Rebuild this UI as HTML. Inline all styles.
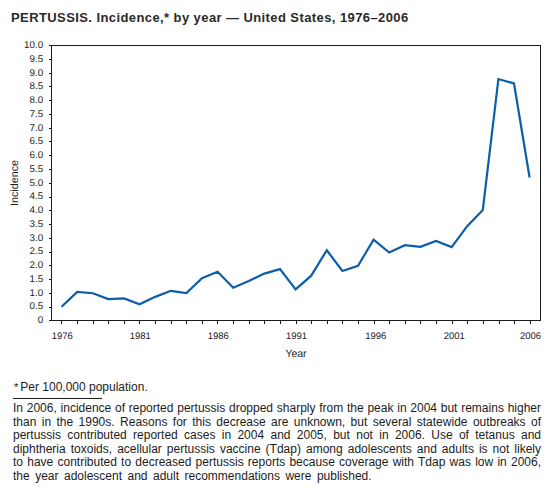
<!DOCTYPE html>
<html><head><meta charset="utf-8"><style>
html,body{margin:0;padding:0;background:#fff;}
body{width:550px;height:492px;position:relative;overflow:hidden;font-family:"Liberation Sans",sans-serif;color:#1c1c1c;}
.title{position:absolute;left:11px;top:10px;font-weight:bold;font-size:13px;letter-spacing:0.41px;white-space:nowrap;color:#2a2a2a;}
svg{position:absolute;left:0;top:0;}
.fn{position:absolute;left:14px;top:380.2px;font-size:12px;line-height:14px;white-space:nowrap;}
.rule{position:absolute;left:13px;top:398px;width:89px;height:1px;background:#1c1c1c;}
.body{position:absolute;left:13px;top:402px;width:528px;font-size:12px;line-height:13.6px;}
.body div{text-align:justify;text-align-last:justify;white-space:nowrap;}
.body div.last{text-align-last:left;word-spacing:2.15px;}
</style></head><body>
<div class="title">PERTUSSIS. Incidence,* by year — United States, 1976–2006</div>
<svg width="550" height="492" viewBox="0 0 550 492">
<g font-family="Liberation Sans, sans-serif" font-size="9.5" fill="#1c1c1c" text-rendering="geometricPrecision">
<text font-size="9.8" x="43.2" y="48.00" text-anchor="end">10.0</text><text font-size="9.8" x="43.2" y="61.75" text-anchor="end">9.5</text><text font-size="9.8" x="43.2" y="75.50" text-anchor="end">9.0</text><text font-size="9.8" x="43.2" y="89.25" text-anchor="end">8.5</text><text font-size="9.8" x="43.2" y="103.00" text-anchor="end">8.0</text><text font-size="9.8" x="43.2" y="116.75" text-anchor="end">7.5</text><text font-size="9.8" x="43.2" y="130.50" text-anchor="end">7.0</text><text font-size="9.8" x="43.2" y="144.25" text-anchor="end">6.5</text><text font-size="9.8" x="43.2" y="158.00" text-anchor="end">6.0</text><text font-size="9.8" x="43.2" y="171.75" text-anchor="end">5.5</text><text font-size="9.8" x="43.2" y="185.50" text-anchor="end">5.0</text><text font-size="9.8" x="43.2" y="199.25" text-anchor="end">4.5</text><text font-size="9.8" x="43.2" y="213.00" text-anchor="end">4.0</text><text font-size="9.8" x="43.2" y="226.75" text-anchor="end">3.5</text><text font-size="9.8" x="43.2" y="240.50" text-anchor="end">3.0</text><text font-size="9.8" x="43.2" y="254.25" text-anchor="end">2.5</text><text font-size="9.8" x="43.2" y="268.00" text-anchor="end">2.0</text><text font-size="9.8" x="43.2" y="281.75" text-anchor="end">1.5</text><text font-size="9.8" x="43.2" y="295.50" text-anchor="end">1.0</text><text font-size="9.8" x="43.2" y="309.25" text-anchor="end">0.5</text><text font-size="9.8" x="43.2" y="323.00" text-anchor="end">0</text>
<text x="62.30" y="339.2" text-anchor="middle">1976</text><text x="140.32" y="339.2" text-anchor="middle">1981</text><text x="218.33" y="339.2" text-anchor="middle">1986</text><text x="296.50" y="339.2" text-anchor="middle">1991</text><text x="375.72" y="339.2" text-anchor="middle">1996</text><text x="454.23" y="339.2" text-anchor="middle">2001</text><text x="530.60" y="339.2" text-anchor="middle">2006</text>
<text x="296" y="356.5" text-anchor="middle" font-size="10.5">Year</text>
<text transform="translate(17.6,183) rotate(-90)" text-anchor="middle" font-size="10.8">Incidence</text>
</g>
<g fill="#1c1c1c" shape-rendering="crispEdges">
<rect x="51" y="45" width="490" height="1"/><rect x="51" y="320" width="490" height="1"/><rect x="51" y="45" width="1" height="276"/><rect x="540" y="45" width="1" height="276"/><rect x="49" y="45" width="2" height="1"/><rect x="49" y="59" width="2" height="1"/><rect x="49" y="73" width="2" height="1"/><rect x="49" y="86" width="2" height="1"/><rect x="49" y="100" width="2" height="1"/><rect x="49" y="114" width="2" height="1"/><rect x="49" y="128" width="2" height="1"/><rect x="49" y="141" width="2" height="1"/><rect x="49" y="155" width="2" height="1"/><rect x="49" y="169" width="2" height="1"/><rect x="49" y="183" width="2" height="1"/><rect x="49" y="197" width="2" height="1"/><rect x="49" y="210" width="2" height="1"/><rect x="49" y="224" width="2" height="1"/><rect x="49" y="238" width="2" height="1"/><rect x="49" y="252" width="2" height="1"/><rect x="49" y="265" width="2" height="1"/><rect x="49" y="279" width="2" height="1"/><rect x="49" y="293" width="2" height="1"/><rect x="49" y="307" width="2" height="1"/><rect x="49" y="320" width="2" height="1"/><rect x="61" y="321" width="1" height="3"/><rect x="77" y="321" width="1" height="3"/><rect x="93" y="321" width="1" height="3"/><rect x="108" y="321" width="1" height="3"/><rect x="124" y="321" width="1" height="3"/><rect x="139" y="321" width="1" height="3"/><rect x="155" y="321" width="1" height="3"/><rect x="171" y="321" width="1" height="3"/><rect x="186" y="321" width="1" height="3"/><rect x="202" y="321" width="1" height="3"/><rect x="217" y="321" width="1" height="3"/><rect x="233" y="321" width="1" height="3"/><rect x="249" y="321" width="1" height="3"/><rect x="264" y="321" width="1" height="3"/><rect x="280" y="321" width="1" height="3"/><rect x="296" y="321" width="1" height="3"/><rect x="311" y="321" width="1" height="3"/><rect x="327" y="321" width="1" height="3"/><rect x="342" y="321" width="1" height="3"/><rect x="358" y="321" width="1" height="3"/><rect x="374" y="321" width="1" height="3"/><rect x="389" y="321" width="1" height="3"/><rect x="405" y="321" width="1" height="3"/><rect x="420" y="321" width="1" height="3"/><rect x="436" y="321" width="1" height="3"/><rect x="452" y="321" width="1" height="3"/><rect x="467" y="321" width="1" height="3"/><rect x="483" y="321" width="1" height="3"/><rect x="499" y="321" width="1" height="3"/><rect x="514" y="321" width="1" height="3"/><rect x="530" y="321" width="1" height="3"/>
</g>
<polyline points="61.60,306.75 77.20,291.90 92.80,293.27 108.40,299.05 124.00,298.36 139.60,304.27 155.20,296.85 170.80,290.80 186.40,293.00 202.00,278.15 217.60,271.82 233.20,287.77 248.80,280.90 264.40,273.61 280.00,269.07 295.60,289.43 311.20,275.68 326.80,250.24 342.40,271.00 358.00,265.77 373.60,239.65 389.20,252.57 404.80,245.15 420.40,246.80 436.00,241.02 451.60,247.07 467.20,226.18 482.80,209.95 498.40,79.05 514.00,83.45 529.60,177.50" fill="none" stroke="#0c5eac" stroke-width="2.2" stroke-linejoin="miter"/>
</svg>
<div class="fn"><span style="font-size:11px;margin-right:2px;">*</span>Per 100,000 population.</div>
<div class="rule"></div>
<div class="body">
<div>In 2006, incidence of reported pertussis dropped sharply from the peak in 2004 but remains higher</div>
<div>than in the 1990s. Reasons for this decrease are unknown, but several statewide outbreaks of</div>
<div>pertussis contributed reported cases in 2004 and 2005, but not in 2006. Use of tetanus and</div>
<div>diphtheria toxoids, acellular pertussis vaccine (Tdap) among adolescents and adults is not likely</div>
<div>to have contributed to decreased pertussis reports because coverage with Tdap was low in 2006,</div>
<div class="last">the year adolescent and adult recommendations were published.</div>
</div>
</body></html>
